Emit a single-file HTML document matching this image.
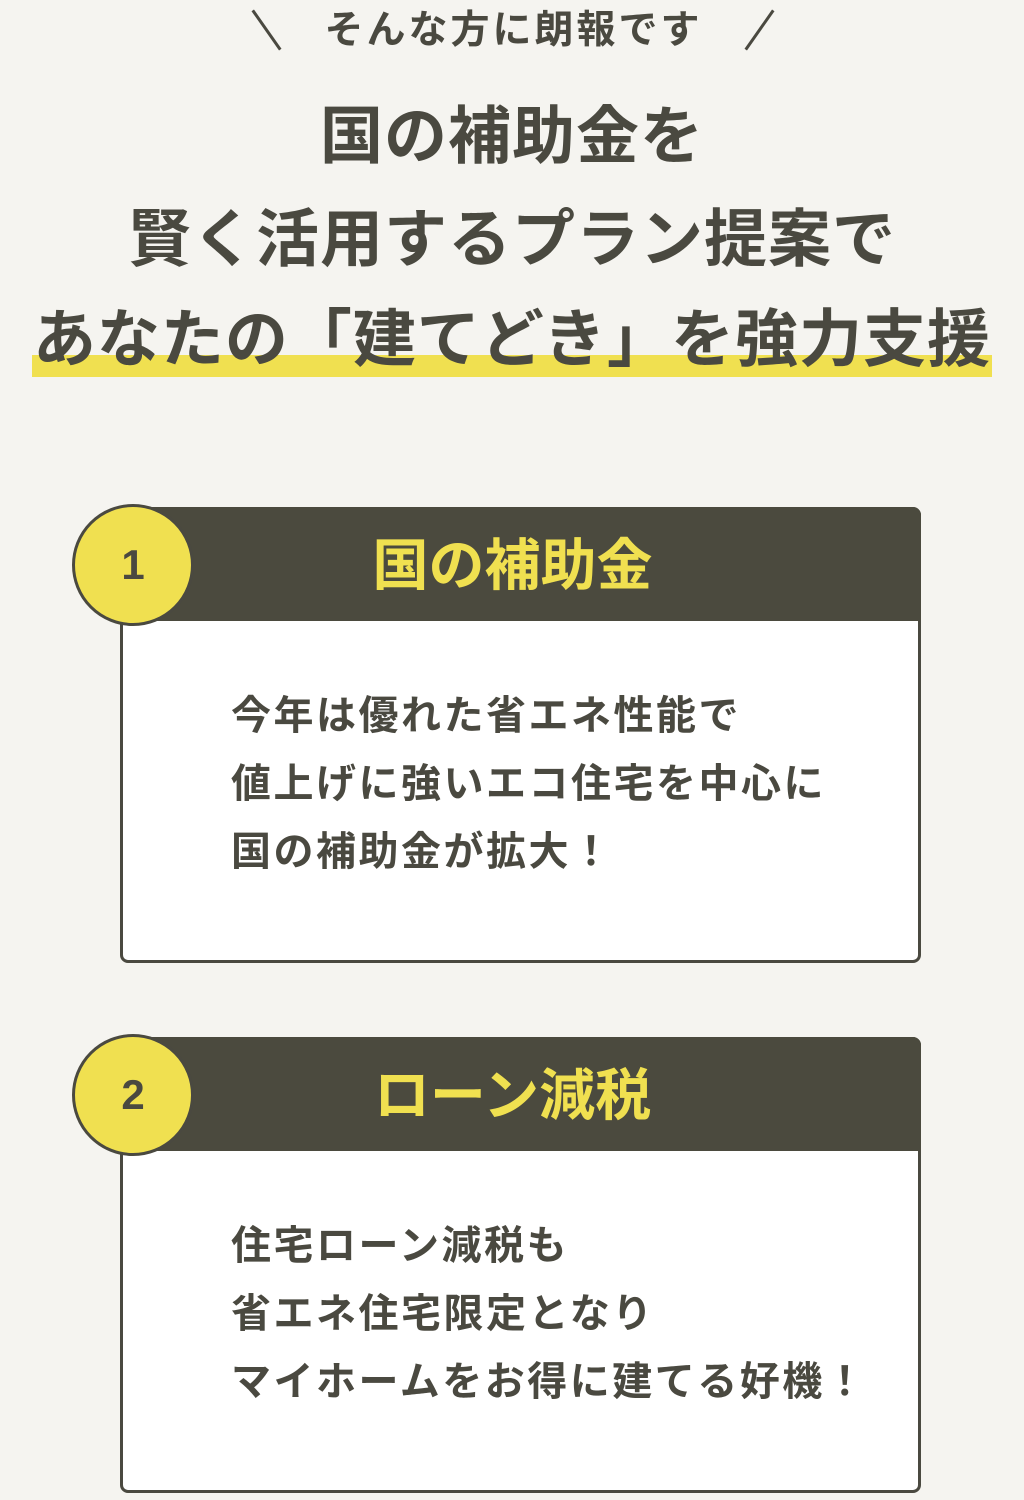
<!DOCTYPE html>
<html><head><meta charset="utf-8"><style>
*{margin:0;padding:0;box-sizing:border-box}
body{width:1024px;height:1500px;background:#f5f4f0;font-family:"Liberation Sans","Noto Sans CJK JP",sans-serif;color:#4a4940;font-weight:700;position:relative;overflow:hidden}
.a{position:absolute;white-space:nowrap}
.sub{top:8px;left:0;width:1024px;text-align:center;font-size:39px;line-height:46px;letter-spacing:3px;padding-left:3px}
.sl{position:absolute;top:6px;width:3px;height:48px;background:#4a4940}
.t{left:0;width:1024px;text-align:center;font-size:63px;line-height:70px;letter-spacing:1px}
.hl{position:absolute;left:32px;top:355px;width:960px;height:22px;background:#f0e050}
.card{position:absolute;left:120px;width:801px;height:456px;border:3px solid #4a4940;border-radius:8px;background:#fff}
.bar{position:absolute;left:-3px;top:-3px;width:801px;height:114px;background:#4b4a3e;border-radius:8px 8px 0 0;color:#f0e050;font-size:56px;line-height:118px;text-align:center;padding-right:16px}
.circ{position:absolute;width:122px;height:122px;border-radius:50%;background:#f0e050;border:3px solid #4a4940;font-size:42px;line-height:116px;text-align:center}
.body{position:absolute;left:108px;top:172px;font-size:40px;line-height:68px;letter-spacing:2.5px}
</style></head><body>
<div class="sl" style="left:265px;transform:rotate(-35deg)"></div>
<div class="sl" style="left:758px;transform:rotate(35deg)"></div>
<div class="a sub">そんな方に朗報です</div>
<div class="hl"></div>
<div class="a t" style="top:102px">国の補助金を</div>
<div class="a t" style="top:205px">賢く活用するプラン提案で</div>
<div class="a t" style="top:305px">あなたの「建てどき」を強力支援</div>

<div class="card" style="top:507px">
<div class="bar">国の補助金</div>
<div class="body">今年は優れた省エネ性能で<br>値上げに強いエコ住宅を中心に<br>国の補助金が拡大！</div>
</div>
<div class="circ" style="left:72px;top:504px">1</div>

<div class="card" style="top:1037px">
<div class="bar">ローン減税</div>
<div class="body">住宅ローン減税も<br>省エネ住宅限定となり<br>マイホームをお得に建てる好機！</div>
</div>
<div class="circ" style="left:72px;top:1034px">2</div>
</body></html>
